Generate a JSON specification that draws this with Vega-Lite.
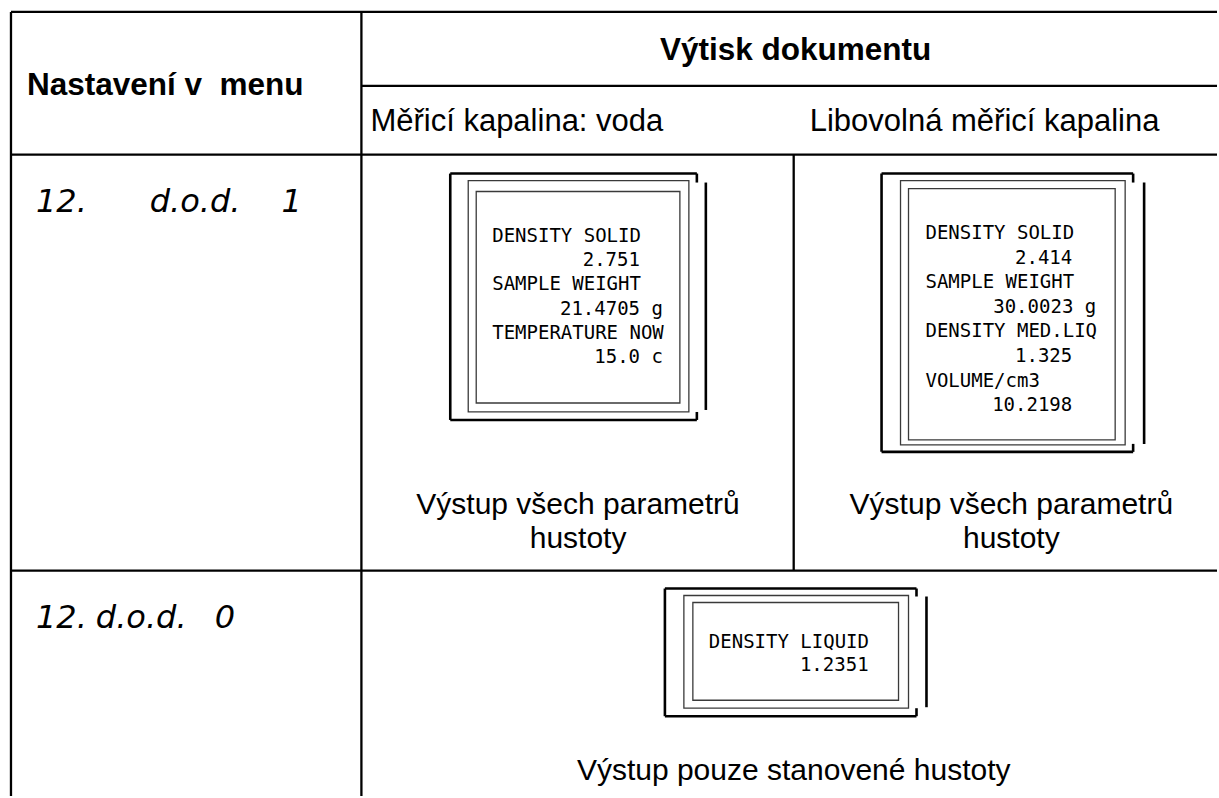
{
  "$schema": "https://vega.github.io/schema/vega-lite/v6.json",
  "autosize": {"type": "fit", "contains": "padding"},
  "width": 1219,
  "height": 798,
  "padding": 0,
  "background": "white",
  "config": {"view": {"stroke": null}},
  "datasets": {
    "grid": [
      {"x": 11, "y": 12, "x2": 1219, "y2": 12},
      {"x": 11, "y": 12, "x2": 11, "y2": 798},
      {"x": 362, "y": 12, "x2": 362, "y2": 798},
      {"x": 362, "y": 86, "x2": 1219, "y2": 86},
      {"x": 11, "y": 155, "x2": 1219, "y2": 155},
      {"x": 795, "y": 155, "x2": 795, "y2": 572},
      {"x": 11, "y": 572, "x2": 1219, "y2": 572}
    ],
    "bracket": [
      {"box": 1, "x": 451, "y": 174, "x2": 698, "y2": 174},
      {"box": 1, "x": 698, "y": 174, "x2": 698, "y2": 183},
      {"box": 1, "x": 451, "y": 174, "x2": 451, "y2": 421},
      {"box": 1, "x": 451, "y": 421, "x2": 698, "y2": 421},
      {"box": 1, "x": 698, "y": 413, "x2": 698, "y2": 421},
      {"box": 1, "x": 707, "y": 183, "x2": 707, "y2": 411},
      {"box": 2, "x": 883, "y": 174, "x2": 1135, "y2": 174},
      {"box": 2, "x": 1135, "y": 174, "x2": 1135, "y2": 183},
      {"box": 2, "x": 883, "y": 174, "x2": 883, "y2": 453},
      {"box": 2, "x": 883, "y": 453, "x2": 1135, "y2": 453},
      {"box": 2, "x": 1135, "y": 445, "x2": 1135, "y2": 453},
      {"box": 2, "x": 1146, "y": 183, "x2": 1146, "y2": 445},
      {"box": 3, "x": 666, "y": 590, "x2": 918, "y2": 590},
      {"box": 3, "x": 918, "y": 590, "x2": 918, "y2": 598},
      {"box": 3, "x": 666, "y": 590, "x2": 666, "y2": 718},
      {"box": 3, "x": 666, "y": 718, "x2": 918, "y2": 718},
      {"box": 3, "x": 918, "y": 710, "x2": 918, "y2": 718},
      {"box": 3, "x": 928, "y": 598, "x2": 928, "y2": 709}
    ],
    "frame": [
      {"box": 1, "x": 469, "y": 181, "x2": 690, "y2": 413},
      {"box": 1, "x": 477, "y": 192, "x2": 681, "y2": 404},
      {"box": 2, "x": 902, "y": 181, "x2": 1127, "y2": 446},
      {"box": 2, "x": 910, "y": 189, "x2": 1117, "y2": 441},
      {"box": 3, "x": 685, "y": 597, "x2": 910, "y2": 710},
      {"box": 3, "x": 694, "y": 604, "x2": 900, "y2": 702}
    ],
    "printLabel": [
      {"box": 1, "t": "DENSITY SOLID", "x": 493, "y": 243},
      {"box": 1, "t": "SAMPLE WEIGHT", "x": 493, "y": 291},
      {"box": 1, "t": "TEMPERATURE NOW", "x": 493, "y": 340},
      {"box": 2, "t": "DENSITY SOLID", "x": 927, "y": 240},
      {"box": 2, "t": "SAMPLE WEIGHT", "x": 927, "y": 289},
      {"box": 2, "t": "DENSITY MED.LIQ", "x": 927, "y": 338},
      {"box": 2, "t": "VOLUME/cm3", "x": 927, "y": 388},
      {"box": 3, "t": "DENSITY LIQUID", "x": 710, "y": 650}
    ],
    "printValue": [
      {"box": 1, "t": "2.751", "x": 641, "y": 267},
      {"box": 1, "t": "21.4705 g", "x": 664, "y": 316},
      {"box": 1, "t": "15.0 c", "x": 664, "y": 364},
      {"box": 2, "t": "2.414", "x": 1074, "y": 265},
      {"box": 2, "t": "30.0023 g", "x": 1098, "y": 314},
      {"box": 2, "t": "1.325", "x": 1074, "y": 363},
      {"box": 2, "t": "10.2198", "x": 1074, "y": 412},
      {"box": 3, "t": "1.2351", "x": 870, "y": 673}
    ],
    "boldLeft": [
      {"t": "Nastavení v\u00a0 menu", "x": 27, "y": 95}
    ],
    "boldCenter": [
      {"t": "Výtisk dokumentu", "x": 797, "y": 60}
    ],
    "plainLeft": [
      {"t": "Měřicí kapalina: voda", "x": 371, "y": 131},
      {"t": "Libovolná měřicí kapalina", "x": 811, "y": 131}
    ],
    "plainCenter": [
      {"t": "Výstup všech parametrů", "x": 579, "y": 515},
      {"t": "hustoty", "x": 579, "y": 549},
      {"t": "Výstup všech parametrů", "x": 1013, "y": 515},
      {"t": "hustoty", "x": 1013, "y": 549},
      {"t": "Výstup pouze stanovené hustoty", "x": 795, "y": 782}
    ],
    "segment": [
      {"t": "12.", "x": 36, "y": 213},
      {"t": "d.o.d.", "x": 150, "y": 213},
      {"t": "1", "x": 282, "y": 213},
      {"t": "12.", "x": 36, "y": 630},
      {"t": "d.o.d.", "x": 96, "y": 630},
      {"t": "0", "x": 215, "y": 630}
    ]
  },
  "layer": [
    {
      "data": {"name": "grid"},
      "mark": {"type": "rule", "color": "black", "strokeWidth": 2.3},
      "encoding": {
        "x": {"field": "x", "type": "quantitative", "scale": {"domain": [0, 1219], "nice": false, "zero": false}, "axis": null},
        "y": {"field": "y", "type": "quantitative", "scale": {"domain": [0, 798], "nice": false, "zero": false, "reverse": true}, "axis": null},
        "x2": {"field": "x2"},
        "y2": {"field": "y2"}
      }
    },
    {
      "data": {"name": "bracket"},
      "mark": {"type": "rule", "color": "black", "strokeWidth": 2.6},
      "encoding": {
        "x": {"field": "x", "type": "quantitative", "scale": {"domain": [0, 1219], "nice": false, "zero": false}, "axis": null},
        "y": {"field": "y", "type": "quantitative", "scale": {"domain": [0, 798], "nice": false, "zero": false, "reverse": true}, "axis": null},
        "x2": {"field": "x2"},
        "y2": {"field": "y2"}
      }
    },
    {
      "data": {"name": "frame"},
      "mark": {"type": "rect", "fill": null, "fillOpacity": 0, "stroke": "#3a3a3a", "strokeWidth": 1.3},
      "encoding": {
        "x": {"field": "x", "type": "quantitative", "scale": {"domain": [0, 1219], "nice": false, "zero": false}, "axis": null},
        "y": {"field": "y", "type": "quantitative", "scale": {"domain": [0, 798], "nice": false, "zero": false, "reverse": true}, "axis": null},
        "x2": {"field": "x2"},
        "y2": {"field": "y2"}
      }
    },
    {
      "data": {"name": "printLabel"},
      "mark": {"type": "text", "align": "left", "baseline": "alphabetic", "font": "DejaVu Sans Mono", "fontSize": 19, "color": "black"},
      "encoding": {
        "x": {"field": "x", "type": "quantitative", "scale": {"domain": [0, 1219], "nice": false, "zero": false}, "axis": null},
        "y": {"field": "y", "type": "quantitative", "scale": {"domain": [0, 798], "nice": false, "zero": false, "reverse": true}, "axis": null},
        "text": {"field": "t"}
      }
    },
    {
      "data": {"name": "printValue"},
      "mark": {"type": "text", "align": "right", "baseline": "alphabetic", "font": "DejaVu Sans Mono", "fontSize": 19, "color": "black"},
      "encoding": {
        "x": {"field": "x", "type": "quantitative", "scale": {"domain": [0, 1219], "nice": false, "zero": false}, "axis": null},
        "y": {"field": "y", "type": "quantitative", "scale": {"domain": [0, 798], "nice": false, "zero": false, "reverse": true}, "axis": null},
        "text": {"field": "t"}
      }
    },
    {
      "data": {"name": "boldLeft"},
      "mark": {"type": "text", "align": "left", "baseline": "alphabetic", "font": "Liberation Sans", "fontSize": 31.5, "fontWeight": "bold", "color": "black"},
      "encoding": {
        "x": {"field": "x", "type": "quantitative", "scale": {"domain": [0, 1219], "nice": false, "zero": false}, "axis": null},
        "y": {"field": "y", "type": "quantitative", "scale": {"domain": [0, 798], "nice": false, "zero": false, "reverse": true}, "axis": null},
        "text": {"field": "t"}
      }
    },
    {
      "data": {"name": "boldCenter"},
      "mark": {"type": "text", "align": "center", "baseline": "alphabetic", "font": "Liberation Sans", "fontSize": 31.5, "fontWeight": "bold", "color": "black"},
      "encoding": {
        "x": {"field": "x", "type": "quantitative", "scale": {"domain": [0, 1219], "nice": false, "zero": false}, "axis": null},
        "y": {"field": "y", "type": "quantitative", "scale": {"domain": [0, 798], "nice": false, "zero": false, "reverse": true}, "axis": null},
        "text": {"field": "t"}
      }
    },
    {
      "data": {"name": "plainLeft"},
      "mark": {"type": "text", "align": "left", "baseline": "alphabetic", "font": "Liberation Sans", "fontSize": 31, "color": "black"},
      "encoding": {
        "x": {"field": "x", "type": "quantitative", "scale": {"domain": [0, 1219], "nice": false, "zero": false}, "axis": null},
        "y": {"field": "y", "type": "quantitative", "scale": {"domain": [0, 798], "nice": false, "zero": false, "reverse": true}, "axis": null},
        "text": {"field": "t"}
      }
    },
    {
      "data": {"name": "plainCenter"},
      "mark": {"type": "text", "align": "center", "baseline": "alphabetic", "font": "Liberation Sans", "fontSize": 30, "color": "black"},
      "encoding": {
        "x": {"field": "x", "type": "quantitative", "scale": {"domain": [0, 1219], "nice": false, "zero": false}, "axis": null},
        "y": {"field": "y", "type": "quantitative", "scale": {"domain": [0, 798], "nice": false, "zero": false, "reverse": true}, "axis": null},
        "text": {"field": "t"}
      }
    },
    {
      "data": {"name": "segment"},
      "mark": {"type": "text", "align": "left", "baseline": "alphabetic", "font": "DejaVu Sans", "fontSize": 32, "fontStyle": "italic", "fontWeight": 300, "color": "black"},
      "encoding": {
        "x": {"field": "x", "type": "quantitative", "scale": {"domain": [0, 1219], "nice": false, "zero": false}, "axis": null},
        "y": {"field": "y", "type": "quantitative", "scale": {"domain": [0, 798], "nice": false, "zero": false, "reverse": true}, "axis": null},
        "text": {"field": "t"}
      }
    }
  ]
}
